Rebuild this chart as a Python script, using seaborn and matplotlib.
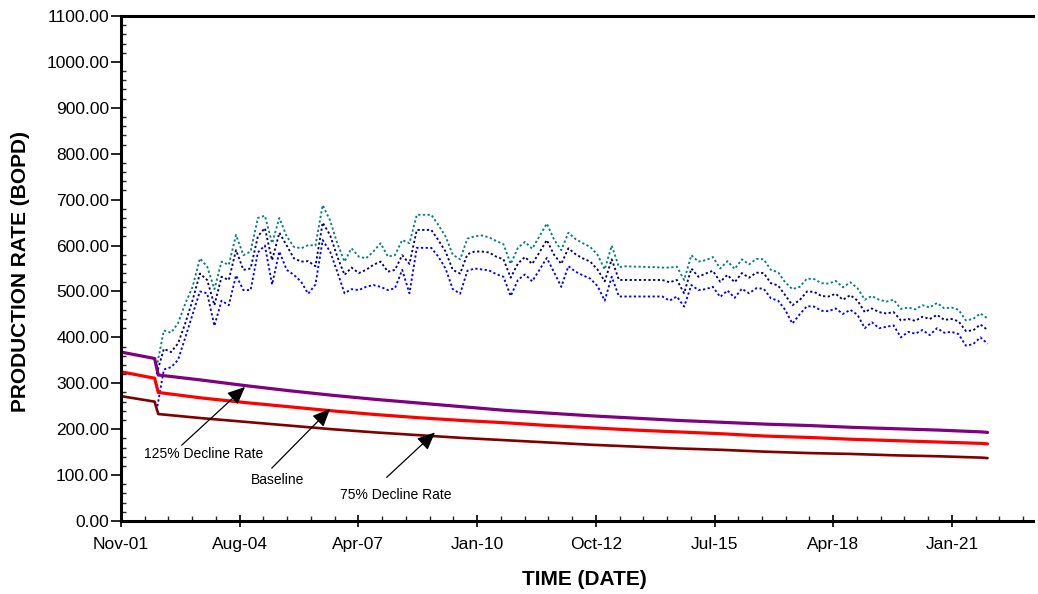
import matplotlib
matplotlib.use("Agg")
import matplotlib.pyplot as plt
import matplotlib.dates as mdates
from matplotlib.ticker import FormatStrFormatter, MultipleLocator, FixedLocator
import numpy as np
import pandas as pd
import seaborn as sns

# ---- production forecasts (BOPD), sampled every two months from Sep-2002 ----
forecast_start = "2002-09-01"
high_case = [335, 415, 410, 431, 474, 510, 572, 554, 505, 565,
             558, 623, 579, 587, 660, 665, 605, 660, 620, 597,
             594, 601, 600, 688, 655, 605, 565, 594, 576, 572,
             587, 605, 576, 579, 612, 605, 667, 667, 667, 645,
             620, 580, 570, 615, 620, 622, 618, 610, 603, 560,
             595, 608, 593, 620, 648, 613, 590, 628, 614, 605,
             597, 580, 548, 600, 553, 555, 554, 554, 553, 553,
             552, 552, 554, 525, 579, 565, 568, 575, 550, 566,
             549, 570, 559, 571, 570, 547, 542, 520, 505, 510,
             528, 527, 518, 517, 523, 509, 520, 507, 482, 490,
             482, 478, 482, 462, 465, 461, 470, 465, 475, 463,
             465, 460, 437, 440, 452, 441]
mid_case = [320, 375, 368, 387, 431, 481, 539, 525, 470, 532,
            525, 590, 547, 550, 620, 638, 568, 628, 600, 572,
            565, 566, 555, 650, 623, 576, 536, 552, 540, 547,
            558, 565, 543, 547, 579, 560, 634, 634, 634, 612,
            587, 547, 539, 581, 587, 587, 585, 576, 570, 530,
            561, 575, 560, 585, 612, 580, 560, 594, 581, 572,
            565, 548, 522, 570, 525, 525, 525, 525, 525, 525,
            525, 520, 525, 496, 550, 532, 539, 545, 521, 536,
            520, 540, 530, 541, 540, 518, 513, 492, 470, 481,
            500, 499, 490, 489, 495, 482, 492, 480, 455, 463,
            455, 452, 455, 437, 440, 436, 445, 440, 449, 438,
            440, 435, 414, 415, 428, 416]
low_case = [240, 330, 335, 351, 400, 450, 500, 496, 425, 480,
            470, 535, 503, 503, 585, 600, 515, 587, 547, 536,
            521, 495, 515, 612, 587, 543, 496, 505, 503, 510,
            514, 510, 503, 507, 547, 496, 595, 595, 595, 576,
            550, 505, 495, 545, 550, 548, 546, 538, 532, 490,
            525, 537, 522, 547, 573, 542, 510, 555, 543, 535,
            528, 512, 480, 532, 489, 489, 489, 489, 489, 489,
            489, 480, 489, 467, 514, 503, 505, 510, 488, 502,
            486, 506, 496, 507, 506, 485, 480, 460, 430, 450,
            468, 467, 458, 457, 463, 451, 460, 449, 420, 433,
            420, 423, 426, 400, 412, 408, 416, 405, 420, 410,
            412, 407, 382, 385, 400, 386]

# ---- decline-curve cases (BOPD) ----
decline_dates = (["2001-11-05", "2002-08-15", "2002-09-15"]
                 + [f"{y}-09-15" for y in range(2003, 2022)]
                 + ["2021-10-31"])
decline_125 = [368, 354, 318, 307, 295, 284, 274, 265, 257, 249, 241, 235,
               229, 224, 219, 215, 211, 208, 204, 201, 198, 194, 193]
decline_base = [325, 311, 280, 268, 258, 249, 240, 232, 225, 219, 214, 208,
                203, 198, 194, 190, 185, 182, 178, 175, 172, 169, 168]
decline_75 = [272, 260, 233, 224, 216, 208, 200, 193, 187, 181, 176, 171,
              166, 162, 158, 155, 151, 148, 146, 143, 141, 138, 137]

y_ticks = [0, 100, 200, 300, 400, 500, 600, 700, 800, 900, 1000, 1100]

sns.set_theme(style="ticks")
plt.rcParams["font.family"] = ["Liberation Sans", "DejaVu Sans"]
plt.rcParams["text.color"] = "black"
plt.rcParams["axes.labelcolor"] = "black"

W, H = 1038, 594
L, R, T, B = 121, 1033, 16, 521
fig = plt.figure(figsize=(W / 100, H / 100), dpi=100)
ax = fig.add_axes([L / W, 1 - B / H, (R - L) / W, (B - T) / H])

fc_dates = pd.date_range(forecast_start, periods=len(mid_case), freq="2MS")
fc = pd.DataFrame({"date": fc_dates, "high": high_case, "mid": mid_case, "low": low_case})
dc = pd.DataFrame({"date": pd.to_datetime(decline_dates), "d125": decline_125,
                   "base": decline_base, "d75": decline_75})

for col, color in [("high", "#008080"), ("mid", "#000080"), ("low", "#0000FF")]:
    sns.lineplot(data=fc, x="date", y=col, ax=ax, color=color,
                 linewidth=1.35, linestyle=(0, (1.2, 1.3)), legend=False)

for col, color, lw in [("d125", "#800080", 2.3), ("base", "#FF0000", 2.3), ("d75", "#800000", 1.9)]:
    sns.lineplot(data=dc, x="date", y=col, ax=ax, color=color,
                 linewidth=lw, legend=False)

# axes scale
origin = pd.Timestamp("2001-11-05")
x0 = mdates.date2num(origin)
ax.set_xlim(x0, x0 + 7683)
ax.set_ylim(0, 1100)

ax.xaxis.set_major_locator(FixedLocator([x0 + 1000 * k for k in range(8)]))
ax.xaxis.set_minor_locator(FixedLocator([x0 + 200 * k for k in range(39)]))
ax.xaxis.set_major_formatter(mdates.DateFormatter("%b-%y"))
ax.yaxis.set_major_locator(FixedLocator(y_ticks))
ax.yaxis.set_minor_locator(MultipleLocator(20))
ax.yaxis.set_major_formatter(FormatStrFormatter("%.2f"))

ax.tick_params(axis="x", which="major", direction="inout", length=9, width=1.2,
               labelsize=12.5, pad=7, colors="black")
ax.tick_params(axis="x", which="minor", direction="in", length=3.5, width=1.0)
ax.tick_params(axis="y", which="major", direction="out", length=7, width=1.2,
               labelsize=12.5, pad=1.5, colors="black")
ax.tick_params(axis="y", which="minor", direction="in", length=3.5, width=1.0)

for side in ["left", "bottom", "top"]:
    ax.spines[side].set_linewidth(2.2)
    ax.spines[side].set_color("black")
ax.spines["right"].set_visible(False)

ax.set_xlabel("TIME (DATE)", fontsize=15, fontweight="bold", color="black")
ax.set_ylabel("PRODUCTION RATE (BOPD)", fontsize=15, fontweight="bold", color="black")
ax.xaxis.set_label_coords((584 - L) / (R - L), -(570 - B) / (B - T))
ax.yaxis.set_label_coords(-(L - 30) / (R - L), (B - 271) / (B - T))

# case labels with arrows onto the decline curves
def day(d):
    return origin + pd.Timedelta(days=d)

notes = [
    ("125% Decline Rate", (697, 146), (511, 165), (1045, 292)),
    ("Baseline", (1318, 89), (1270, 115), (1761, 244)),
    ("75% Decline Rate", (2313, 57), (2238, 95), (2645, 193)),
]
for label, (tx, ty), (sx, sy), (hx, hy) in notes:
    ax.text(day(tx), ty, label, ha="center", va="center", fontsize=10, color="black")
    ax.annotate("", xy=(day(hx), hy), xytext=(day(sx), sy),
                arrowprops=dict(arrowstyle="-|>,head_length=0.9,head_width=0.4",
                                color="black", lw=0.9, shrinkA=0, shrinkB=0))

fig.savefig("out.png", dpi=100)
